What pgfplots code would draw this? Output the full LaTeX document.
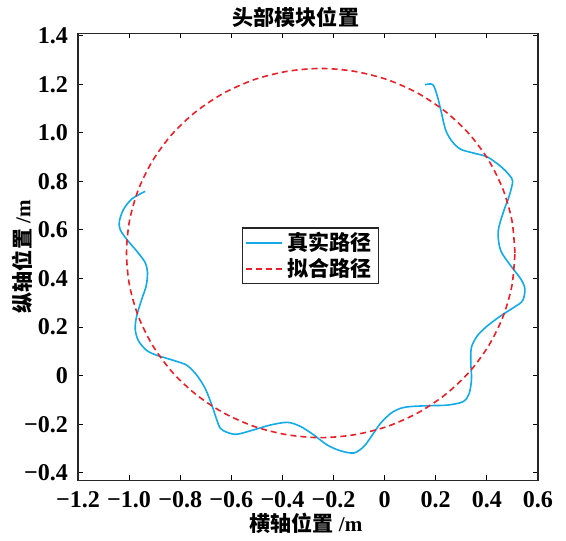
\documentclass[border=0pt]{standalone}
\usepackage{fontspec}
\setmainfont{Liberation Serif}
\newfontfamily\cjk{Noto Sans CJK SC}
\usepackage{pgfplots}
\pgfplotsset{compat=1.18}

\definecolor{realblue}{RGB}{20,170,232}
\definecolor{fitred}{RGB}{232,32,40}

\pgfplotstableread{
x y
0.158 1.198
0.189 1.198
0.207 1.148
0.220 1.093
0.239 1.011
0.265 0.963
0.298 0.932
0.350 0.916
0.403 0.900
0.455 0.861
0.487 0.827
0.501 0.800
0.487 0.738
0.468 0.684
0.448 0.616
0.444 0.575
0.455 0.513
0.494 0.452
0.533 0.398
0.549 0.357
0.540 0.309
0.507 0.282
0.455 0.247
0.403 0.206
0.364 0.166
0.340 0.118
0.337 0.057
0.340 -0.012
0.331 -0.073
0.307 -0.107
0.246 -0.121
0.180 -0.123
0.102 -0.127
0.063 -0.134
0.024 -0.155
-0.016 -0.196
-0.048 -0.244
-0.081 -0.291
-0.120 -0.318
-0.173 -0.309
-0.225 -0.285
-0.277 -0.244
-0.329 -0.209
-0.380 -0.192
-0.447 -0.203
-0.513 -0.223
-0.578 -0.241
-0.617 -0.233
-0.643 -0.216
-0.659 -0.175
-0.676 -0.121
-0.702 -0.053
-0.735 0.002
-0.774 0.043
-0.826 0.063
-0.891 0.084
-0.931 0.104
-0.964 0.145
-0.976 0.193
-0.970 0.247
-0.950 0.316
-0.933 0.370
-0.928 0.425
-0.937 0.466
-0.970 0.513
-1.009 0.561
-1.035 0.602
-1.038 0.636
-1.022 0.684
-0.989 0.728
-0.937 0.759
}\realpath

\pgfplotstableread{
x y
0.510 0.505
0.4985 0.637
0.464 0.765
0.408 0.885
0.332 0.994
0.2385 1.087
0.130 1.163
0.010 1.219
-0.118 1.253
-0.250 1.265
-0.382 1.253
-0.510 1.219
-0.630 1.163
-0.7385 1.087
-0.832 0.994
-0.908 0.885
-0.964 0.765
-0.9985 0.637
-1.010 0.505
-0.9985 0.373
-0.964 0.245
-0.908 0.125
-0.832 0.016
-0.7385 -0.077
-0.630 -0.153
-0.510 -0.209
-0.382 -0.243
-0.250 -0.255
-0.118 -0.243
0.010 -0.209
0.130 -0.153
0.2385 -0.077
0.332 0.016
0.408 0.125
0.464 0.245
0.4985 0.373
0.510 0.505
}\fitpath

\begin{document}
\begin{tikzpicture}
\begin{axis}[
    scale only axis,
    width=229.5pt,
    height=223pt,
    xmin=-1.2, xmax=0.6,
    ymin=-0.43, ymax=1.41,
    xtick={-1.2,-1.0,-0.8,-0.6,-0.4,-0.2,0,0.2,0.4,0.6},
    xticklabels={−1.2,−1.0,−0.8,−0.6,−0.4,−0.2,0,0.2,0.4,0.6},
    ytick={-0.4,-0.2,0,0.2,0.4,0.6,0.8,1.0,1.2,1.4},
    yticklabels={−0.4,−0.2,0,0.2,0.4,0.6,0.8,1.0,1.2,1.4},
    tick align=inside,
    major tick length=2.5pt,
    tick style={black, line width=0.5pt},
    axis line style={black!85, line width=0.6pt},
    tick label style={font=\fontsize{12}{14}\selectfont\bfseries},
    yticklabel style={xshift=-1.5pt},
    xticklabel style={yshift=-2pt},
    title={\cjk\bfseries 头部模块位置},
    title style={font=\fontsize{10.5}{12}\selectfont, yshift=-6.5pt, xshift=-6pt},
    xlabel={{\cjk\bfseries 横轴位置} \bfseries/m},
    ylabel={{\cjk\bfseries 纵轴位置} \bfseries/m},
    label style={font=\fontsize{10.5}{12}\selectfont},
    xlabel style={yshift=4pt, xshift=-1pt},
    ylabel style={yshift=-11pt},
    legend style={
        at={(0.505,0.502)}, anchor=center,
        draw=black!85, line width=0.6pt,
        font=\fontsize{10.5}{12}\selectfont\cjk\bfseries,
        cells={anchor=west},
        inner xsep=1.5pt, inner ysep=0pt, row sep=-1.5pt,
    },
    legend image code/.code={
        \draw[#1, line width=0.8pt] (0pt,0pt) -- (18pt,0pt);
    },
]
\addplot[realblue, line width=0.8pt, smooth, tension=0.5] table[x=x, y=y] {\realpath};
\addplot[fitred, line width=0.8pt, dash pattern=on 3pt off 2pt, smooth] table[x=x, y=y] {\fitpath};
\legend{真实路径, 拟合路径}
\end{axis}
\path ([xshift=-38.9pt, yshift=-29.4pt]current axis.south west)
      ([xshift=14pt, yshift=16.5pt]current axis.north east);
\end{tikzpicture}
\end{document}
